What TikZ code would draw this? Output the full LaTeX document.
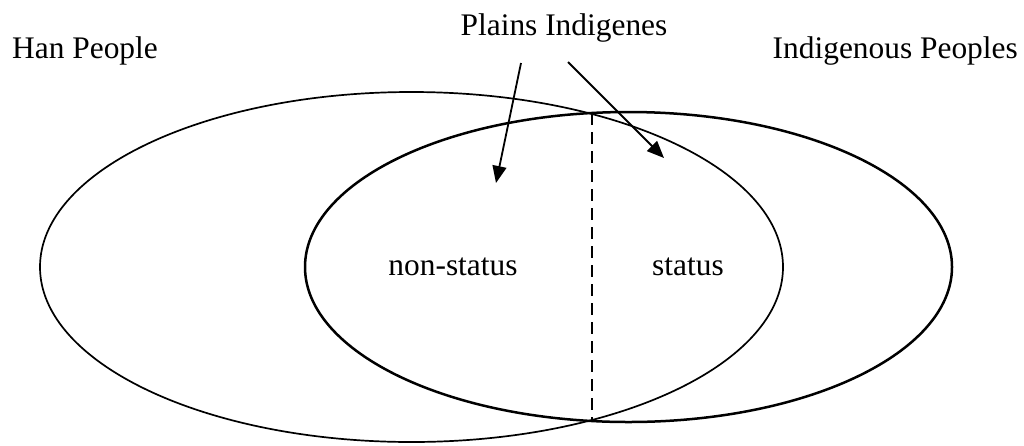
\documentclass[tikz,border=0pt]{standalone}
\usepackage{fontspec}
\setmainfont{Liberation Serif}
\usetikzlibrary{arrows.meta}

\tikzset{
    settext/.style={font=\fontsize{31.4}{36}\selectfont, inner sep=0pt},
    pointer/.style={-{Triangle[length=17pt,width=14pt]}, line width=1.8pt},
}

\begin{document}
\begin{tikzpicture}[x=1pt, y=-1pt]
    \useasboundingbox (0,0) rectangle (1024,445);

    % Sets
    \draw[line width=1.7pt] (411.5,267) ellipse (371.5 and 175);
    \draw[line width=2.5pt] (628.5,267) ellipse (323.5 and 155);

    % Split of the indigenous set
    \coordinate (top) at (592,113);
    \coordinate (bottom) at (592,422);
    \draw[line width=1.8pt, dash pattern=on 12pt off 7pt] (top) -- (bottom);

    % Labels
    \node[settext, anchor=base west] (han) at (12,58) {Han People};
    \node[settext, anchor=base east] (indig) at (1018,58) {Indigenous Peoples};
    \node[settext, anchor=base] (plains) at (564,35) {Plains Indigenes};
    \node[settext, anchor=base] (nonstat) at (453,275) {non-status};
    \node[settext, anchor=base west] (stat) at (652,275) {status};

    % Arrows
    \coordinate (p1) at (521,63);
    \coordinate (q1) at (496,183);
    \coordinate (p2) at (568,62);
    \coordinate (q2) at (664,158);
    \draw[pointer] (p1) -- (q1);
    \draw[pointer] (p2) -- (q2);

\end{tikzpicture}
\end{document}
